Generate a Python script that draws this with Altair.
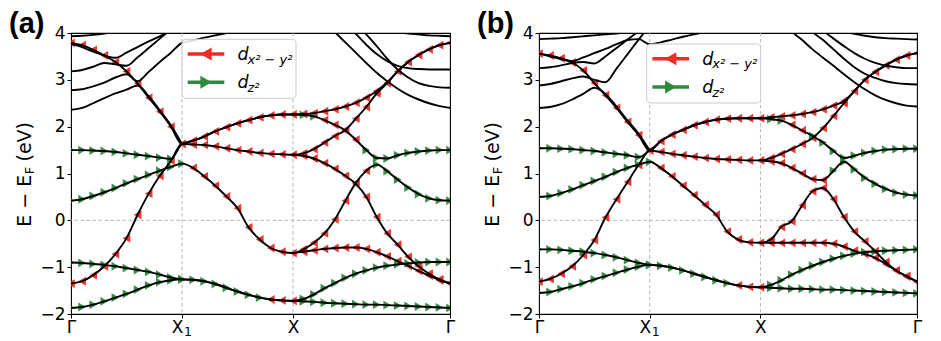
import altair as alt
import pandas as pd

SQ2 = 2 ** 0.5
# sampling k-points: 11 on Γ→X1, 10 on X1→X, 15 on X→Γ
K_GRID = [i / 10 for i in range(11)] + [1 + i / 10 for i in range(1, 11)] + [2 + SQ2 * i / 15 for i in range(1, 16)]
TICK_K = [0, 1, 2, 2 + SQ2]
TICK_LABELS = ["Γ", "", "X", "Γ"]   # X1 is drawn as X + subscript 1 below
X1_MAIN, X1_SUB = "X", "1"
Y_TICKS = [-2, -1, 0, 1, 2, 3, 4]
GRID_K = [1, 2]
GRID_E = [0]
N = None

RED = "#ee2b24"
GREEN = "#2e8b3e"
FONT = "DejaVu Sans"

# ---------------- panel (a) bands ----------------
A_P1 = [3.79, 3.74, 3.64, 3.52, 3.38, 3.18, 2.92, 2.62, 2.32, 2.00, 1.63,
        1.70, 1.79, 1.90, 1.99, 2.07, 2.14, 2.20, 2.24, 2.26, 2.26,
        2.27, 2.29, 2.33, 2.37, 2.43, 2.51, 2.62, 2.76, 2.95, 3.18, 3.38, 3.53, 3.65, 3.74, 3.79]
A_C1 = "rrrrrrrrrrr rrrrrrrrrr rrrrrrrr......."
A_P2 = [-1.35, -1.30, -1.17, -0.98, -0.72, -0.38, 0.12, 0.57, 0.95, 1.27, 1.63,
        1.62, 1.61, 1.58, 1.54, 1.50, 1.47, 1.44, 1.42, 1.41, 1.40,
        1.43, 1.52, 1.66, 1.80, 1.93, 2.17, 2.42, 2.71, 2.93, 3.18, 3.38, 3.53, 3.65, 3.74, 3.79]
A_C2 = "rrrrrrrrrr. rrrrrrrrrr rrrrrrrrrrrrrrr"
A_P3 = [1.50, 1.50, 1.49, 1.48, 1.46, 1.43, 1.40, 1.37, 1.34, 1.31, 1.63,
        1.70, 1.79, 1.90, 1.99, 2.07, 2.14, 2.20, 2.24, 2.26, 2.26,
        2.25, 2.22, 2.14, 2.04, 1.92, 1.72, 1.50, 1.33, 1.32, 1.39, 1.44, 1.47, 1.49, 1.50, 1.50]
A_C3 = "gggggggggg. .......... ggrrrrggggggggg"
A_P4 = [0.42, 0.45, 0.52, 0.60, 0.69, 0.79, 0.88, 0.97, 1.06, 1.14, 1.21,
        1.12, 0.94, 0.74, 0.51, 0.26, -0.15, -0.41, -0.59, -0.67, -0.70,
        -0.62, -0.48, -0.28, 0.02, 0.42, 0.80, 1.06, 1.19, 1.05, 0.87, 0.70, 0.56, 0.47, 0.43, 0.42]
A_C4 = "ggggggggggg rrrrrrrrrr rrrrrrrgggggggg"
A_P5 = [-0.90, -0.91, -0.93, -0.95, -0.98, -1.02, -1.06, -1.10, -1.16, -1.22, -1.26,
        -1.27, -1.30, -1.36, -1.44, -1.52, -1.59, -1.65, -1.69, -1.71, -1.72,
        -1.68, -1.58, -1.45, -1.34, -1.23, -1.14, -1.07, -1.01, -0.97, -0.94, -0.92, -0.90, -0.89, -0.89, -0.89]
A_C5 = "ggggggggggg gggggggrrr ggggggggggggggg"
A_P6 = [-1.87, -1.85, -1.80, -1.73, -1.65, -1.57, -1.48, -1.39, -1.32, -1.28, -1.26,
        -1.27, -1.30, -1.36, -1.44, -1.52, -1.59, -1.65, -1.69, -1.71, -1.72,
        -1.73, -1.74, -1.76, -1.77, -1.78, -1.79, -1.80, -1.80, -1.81, -1.82, -1.83, -1.84, -1.85, -1.86, -1.87]
A_C6 = "ggggggggggg .......... ggggggggggggggg"
A_P7 = [N] * 20 + [1.40, 1.38, 1.32, 1.22, 1.10, 0.95, 0.78, 0.50, 0.07, -0.28, -0.52, -0.78, -0.98, -1.14, -1.26, -1.34]
A_C7 = "........... .......... rrrrrrrrrrrrrrr"
A_P8 = [N] * 20 + [-0.70, -0.67, -0.64, -0.61, -0.59, -0.58, -0.58, -0.61, -0.68, -0.77, -0.87, -0.97, -1.08, -1.18, -1.28, -1.35]
A_C8 = "........... .......... rrrrrrrrrrrrrrr"
A_B1 = [3.93, 3.94, 3.96, 3.99, 4.03, 4.08, 4.15, 4.20, 4.30, 4.40, 4.50,
        4.5, 4.5, 4.5, 4.5, 4.5, 4.5, 4.5, 4.5, 4.5, 4.5,
        4.5, 4.5, 4.5, 4.5, 4.5, 4.4, 4.25, 4.12, 4.06, 4.02, 3.99, 3.97, 3.95, 3.94, 3.93]
A_B2 = [3.77, 3.70, 3.60, 3.52, 3.47, 3.58, 3.70, 3.82, 3.93, 4.05, 4.20,
        4.4, 4.5, 4.5, 4.5, 4.5, 4.5, 4.5, 4.5, 4.5, 4.5,
        4.5, 4.5, 4.5, 4.5, 4.2, 3.98, 3.75, 3.55, 3.40, 3.30, 3.25, 3.23, 3.22, 3.22, 3.22]
A_B3 = [3.18, 3.21, 3.28, 3.36, 3.33, 3.30, 3.48, 3.68, 3.88, 4.08, 4.25,
        4.4, 4.5, 4.5, 4.5, 4.5, 4.5, 4.5, 4.5, 4.5, 4.5,
        4.5, 4.5, 4.5, 4.5, 4.5, 4.2, 3.97, 3.72, 3.45, 3.22, 3.05, 2.93, 2.87, 2.84, 2.83]
A_B4 = [2.78, 2.80, 2.86, 2.94, 3.05, 3.12, 2.97, 3.17, 3.38, 3.58, 3.79,
        3.84, 3.90, 3.95, 4.00, 4.06, 4.12, 4.20, 4.30, 4.40, 4.50,
        4.5, 4.5, 4.25, 4.02, 3.80, 3.58, 3.36, 3.15, 2.97, 2.81, 2.68, 2.58, 2.50, 2.44, 2.40]
A_B5 = [2.36, 2.40, 2.50, 2.61, 2.71, 2.79, 2.88, 2.65, 2.35, 2.03, 1.63] + [N] * 25
BLACK = "........... .......... ..............."

# ---------------- panel (b) bands ----------------
B_P1 = [3.56, 3.52, 3.46, 3.37, 3.20, 2.93, 2.67, 2.40, 2.10, 1.82, 1.49,
        1.69, 1.83, 1.93, 2.03, 2.10, 2.15, 2.17, 2.18, 2.18, 2.18,
        2.20, 2.22, 2.24, 2.27, 2.31, 2.37, 2.45, 2.55, 2.76, 3.00, 3.17, 3.31, 3.43, 3.52, 3.57]
B_C1 = "rrrrrrrrrrr rrrrrrrrrr rrrrrrrr......."
B_P2 = [-1.31, -1.25, -1.14, -0.98, -0.74, -0.42, 0.06, 0.45, 0.82, 1.18, 1.49,
        1.46, 1.42, 1.39, 1.36, 1.33, 1.31, 1.30, 1.29, 1.28, 1.28,
        1.33, 1.42, 1.52, 1.63, 1.76, 1.97, 2.23, 2.50, 2.76, 3.00, 3.17, 3.31, 3.43, 3.52, 3.57]
B_C2 = "rrrrrrrrrr. rrrrrrrrrr rrrrrrrrrrrrrrr"
B_P3 = [1.54, 1.54, 1.53, 1.52, 1.50, 1.48, 1.45, 1.42, 1.39, 1.35, 1.49,
        1.69, 1.83, 1.93, 2.03, 2.10, 2.15, 2.17, 2.18, 2.18, 2.18,
        2.16, 2.13, 2.04, 1.92, 1.80, 1.66, 1.48, 1.33, 1.38, 1.44, 1.48, 1.51, 1.52, 1.53, 1.53]
B_C3 = "gggggggggg. .......... ggrrggggggggggg"
B_P4 = [0.50, 0.52, 0.58, 0.66, 0.75, 0.84, 0.93, 1.03, 1.12, 1.19, 1.25,
        1.12, 0.94, 0.74, 0.54, 0.33, 0.12, -0.24, -0.41, -0.47, -0.48,
        -0.41, -0.14, -0.02, 0.32, 0.62, 0.69, 0.45, 0.07, -0.24, -0.45, -0.66, -0.89, -1.07, -1.19, -1.31]
B_C4 = "ggggggggggg rrrrrrrrrr rrrrrrrrrrrrrrr"
B_P5 = [-0.62, -0.62, -0.63, -0.65, -0.67, -0.70, -0.74, -0.79, -0.85, -0.91, -0.95,
        -0.97, -1.01, -1.07, -1.14, -1.21, -1.28, -1.34, -1.39, -1.42, -1.43,
        -1.38, -1.28, -1.16, -1.06, -0.97, -0.89, -0.82, -0.76, -0.71, -0.68, -0.66, -0.65, -0.64, -0.63, -0.62]
B_C5 = "ggggggggggg gggggggrrr ggggggggggggggg"
B_P6 = [-1.55, -1.53, -1.47, -1.41, -1.34, -1.26, -1.19, -1.12, -1.05, -0.99, -0.95,
        -0.97, -1.01, -1.07, -1.14, -1.21, -1.28, -1.34, -1.39, -1.42, -1.43,
        -1.44, -1.45, -1.46, -1.46, -1.47, -1.48, -1.48, -1.49, -1.50, -1.51, -1.52, -1.53, -1.54, -1.55, -1.56]
B_C6 = "ggggggggggg .......... ggggggggggggggg"
B_P7 = [N] * 20 + [1.28, 1.26, 1.22, 1.12, 1.00, 0.88, 0.86, 1.06, 1.25, 1.09, 0.91, 0.78, 0.67, 0.59, 0.55, 0.53]
B_C7 = "........... .......... rrrrrrggggggggg"
B_P8 = [N] * 20 + [-0.48, -0.48, -0.48, -0.48, -0.48, -0.48, -0.48, -0.50, -0.56, -0.65, -0.72, -0.80, -0.93, -1.07, -1.20, -1.31]
B_C8 = "........... .......... rrrrrrrrrrrrrrr"
B_B1 = [3.87, 3.88, 3.89, 3.91, 3.93, 3.95, 3.97, 3.99, 4.02, 4.06, 4.10,
        4.2, 4.3, 4.4, 4.5, 4.5, 4.5, 4.5, 4.5, 4.5, 4.5,
        4.5, 4.5, 4.5, 4.5, 4.5, 4.35, 4.15, 4.04, 3.98, 3.94, 3.91, 3.89, 3.88, 3.87, 3.86]
B_B2 = [3.56, 3.50, 3.44, 3.40, 3.48, 3.57, 3.66, 3.76, 3.85, 3.87, 3.76,
        3.80, 3.86, 3.92, 3.97, 4.02, 4.10, 4.20, 4.30, 4.40, 4.50,
        4.5, 4.5, 4.5, 4.4, 4.25, 4.05, 3.88, 3.72, 3.57, 3.45, 3.36, 3.30, 3.27, 3.25, 3.25]
B_B3 = [3.25, 3.27, 3.31, 3.36, 3.38, 3.35, 3.50, 3.68, 3.86, 4.04, 4.20,
        4.4, 4.5, 4.5, 4.5, 4.5, 4.5, 4.5, 4.5, 4.5, 4.5,
        4.5, 4.5, 4.5, 4.4, 4.03, 3.85, 3.65, 3.45, 3.27, 3.13, 3.04, 2.97, 2.93, 2.91, 2.90]
B_B4 = [2.88, 2.91, 2.97, 3.03, 3.07, 3.00, 2.95, 3.24, 3.55, 3.86, 4.15,
        4.4, 4.5, 4.5, 4.5, 4.5, 4.5, 4.5, 4.5, 4.5, 4.5,
        4.5, 4.5, 4.05, 3.85, 3.65, 3.47, 3.30, 3.12, 2.95, 2.80, 2.67, 2.57, 2.50, 2.45, 2.43]
B_B5 = [2.40, 2.42, 2.48, 2.58, 2.70, 2.83, 2.70, 2.43, 2.13, 1.85, 1.49] + [N] * 25

BANDS_A = [("p1", A_P1, A_C1), ("p2", A_P2, A_C2), ("p3", A_P3, A_C3), ("p4", A_P4, A_C4),
           ("p5", A_P5, A_C5), ("p6", A_P6, A_C6), ("p7", A_P7, A_C7), ("p8", A_P8, A_C8),
           ("b1", A_B1, BLACK), ("b2", A_B2, BLACK), ("b3", A_B3, BLACK), ("b4", A_B4, BLACK), ("b5", A_B5, BLACK)]
BANDS_B = [("p1", B_P1, B_C1), ("p2", B_P2, B_C2), ("p3", B_P3, B_C3), ("p4", B_P4, B_C4),
           ("p5", B_P5, B_C5), ("p6", B_P6, B_C6), ("p7", B_P7, B_C7), ("p8", B_P8, B_C8),
           ("b1", B_B1, BLACK), ("b2", B_B2, BLACK), ("b3", B_B3, BLACK), ("b4", B_B4, BLACK), ("b5", B_B5, BLACK)]

LEGEND_MAIN = ["d", "d"]
LEGEND_SUB = ["x²  −  y²", "z²"]
PANEL_TAGS = ["(a)", "(b)"]
ONE = pd.DataFrame({"o": [0]})
HEIGHT = 281


def band_frames(bands):
    rows, marks = [], []
    for name, vals, chars in bands:
        chars = chars.replace(" ", "")
        assert len(vals) == 36 and len(chars) == 36, name
        for k, e, c in zip(K_GRID, vals, chars):
            if e is None:
                continue
            rows.append({"band": name, "k": k, "E": e})
            if c in "rg":
                marks.append({"k": k, "E": e, "c": c})
    return pd.DataFrame(rows), pd.DataFrame(marks)


xs = alt.Scale(domain=[0, 2 + SQ2], nice=False, zero=False)
ys = alt.Scale(domain=[-2, 4], nice=False, zero=False)
label_expr = (f"datum.value < 0.5 ? '{TICK_LABELS[0]}' : datum.value < 1.5 ? '{TICK_LABELS[1]}' : "
              f"datum.value < 2.5 ? '{TICK_LABELS[2]}' : '{TICK_LABELS[3]}'")
x_axis = alt.Axis(values=TICK_K, labelExpr=label_expr, title=None, grid=False, domain=False,
                  tickSize=4, tickColor="black", tickWidth=1, labelFont=FONT, labelFontSize=17,
                  labelColor="black", labelPadding=1, labelFlush=False, labelOverlap=False)
y_axis = alt.Axis(values=Y_TICKS, title=None, grid=False, domain=False, tickSize=4, tickColor="black",
                  tickWidth=1, labelFont=FONT, labelFontSize=17, labelColor="black", labelPadding=2,
                  labelFlush=False, labelOverlap=False)
X = alt.X("k:Q", scale=xs, axis=x_axis)
Y = alt.Y("E:Q", scale=ys, axis=y_axis)


def text(t, x, y, size, **kw):
    opts = dict(text=t, fontSize=size, font=FONT, color="black", align="left", baseline="alphabetic")
    opts.update(kw)
    return alt.Chart(ONE).mark_text(**opts).encode(x=alt.value(x), y=alt.value(y))


def make_panel(bands, bx, by, tag, width):
    lines_df, mk_df = band_frames(bands)
    grid_style = dict(color="#b0b0b0", strokeDash=[3.5, 2.5], strokeWidth=0.9)
    lines = alt.Chart(lines_df).mark_line(
        color="black", strokeWidth=1.9, interpolate="monotone", clip=True).encode(x=X, y=Y, detail="band:N")
    vgrid = alt.Chart(pd.DataFrame({"k": GRID_K})).mark_rule(**grid_style).encode(x=X)
    hgrid = alt.Chart(pd.DataFrame({"E": GRID_E})).mark_rule(**grid_style).encode(y=Y)
    red = alt.Chart(mk_df[mk_df.c == "r"]).mark_point(
        shape="triangle-left", filled=True, size=78, color=RED, opacity=0.95, clip=True).encode(x=X, y=Y)
    green = alt.Chart(mk_df[mk_df.c == "g"]).mark_point(
        shape="triangle-right", filled=True, size=78, color=GREEN, opacity=0.95, clip=True).encode(x=X, y=Y)

    layers = [vgrid, hgrid, red, green, lines]
    # X1 tick label: X with subscript 1
    x1 = pd.DataFrame({"k": [TICK_K[1]]})
    layers.append(alt.Chart(x1).mark_text(text=X1_MAIN, font=FONT, fontSize=17, color="black", align="right",
                                          baseline="alphabetic", dx=1.5).encode(x=X, y=alt.value(HEIGHT + 18.5)))
    layers.append(alt.Chart(x1).mark_text(text=X1_SUB, font=FONT, fontSize=12.5, color="black", align="left",
                                          baseline="alphabetic", dx=2).encode(x=X, y=alt.value(HEIGHT + 21.5)))
    # legend
    layers.append(alt.Chart(ONE).mark_rect(fill="white", fillOpacity=0.85, stroke="#cccccc", strokeWidth=1,
                                           cornerRadius=4).encode(
        x=alt.value(bx), x2=alt.value(bx + 114), y=alt.value(by), y2=alt.value(by + 59)))
    for i, (col, shape) in enumerate([(RED, "triangle-left"), (GREEN, "triangle-right")]):
        yy = by + 14.7 + 28.3 * i
        layers.append(alt.Chart(ONE).mark_rule(color=col, strokeWidth=3.4).encode(
            x=alt.value(bx + 5.7), x2=alt.value(bx + 42.3), y=alt.value(yy)))
        layers.append(alt.Chart(ONE).mark_point(shape=shape, filled=True, size=170, color=col, opacity=1).encode(
            x=alt.value(bx + 24), y=alt.value(yy)))
        layers.append(text(LEGEND_MAIN[i], bx + 55.5, yy + 6.0, 17.5, fontStyle="italic"))
        layers.append(text(LEGEND_SUB[i], bx + 65.5, yy + 9.5, 13, fontStyle="italic"))
    # y title  E − E_F (eV)
    layers.append(text("E − E", -40.5, 193.8, 19, angle=270))
    layers.append(text("F", -37.0, 141.3, 13, angle=270))
    layers.append(text("(eV)", -40.5, 128.5, 19, angle=270))
    # panel tag
    layers.append(text(tag, -62, 0, 29, font="Liberation Sans", fontWeight="bold"))
    return alt.layer(*layers).properties(width=width, height=HEIGHT)


pa = make_panel(BANDS_A, 111, 6.3, PANEL_TAGS[0], 379)
pb = make_panel(BANDS_B, 107.7, 11, PANEL_TAGS[1], 378)

chart = alt.hconcat(pa, pb, spacing=20).properties(
    padding={"left": 0, "top": 1, "right": 0, "bottom": 0}
).configure_view(stroke="black", strokeWidth=1.1)

chart.save("out.html", embed_options={"renderer": "svg", "actions": False})
